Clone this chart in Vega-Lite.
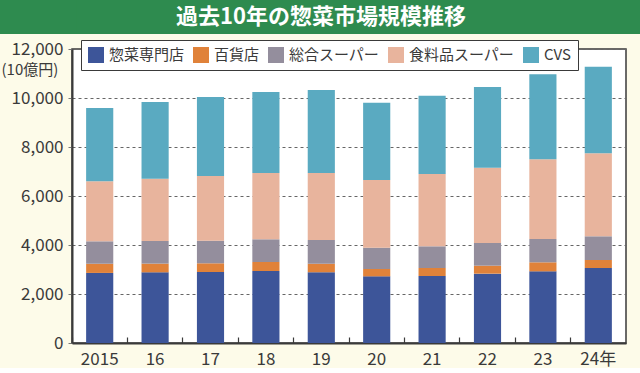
{
  "$schema": "https://vega.github.io/schema/vega-lite/v6.json",
  "padding": 0,
  "background": "#fdfbe9",
  "spacing": 5,
  "config": {
    "view": {"stroke": null},
    "font": "Noto Sans CJK JP",
    "concat": {"spacing": 5}
  },
  "vconcat": [
    {
      "width": 569,
      "height": 34,
      "view": {"fill": "#2e8b4f", "stroke": null},
      "data": {"values": [{"t": "過去10年の惣菜市場規模推移"}]},
      "mark": {"type": "text", "color": "white", "fontSize": 22, "fontWeight": "bold", "font": "Noto Sans CJK JP", "baseline": "middle", "align": "center", "dx": -35.5},
      "encoding": {
        "text": {"field": "t"},
        "y": {
          "field": "t",
          "type": "nominal",
          "scale": {"paddingInner": 0, "paddingOuter": 0},
          "axis": {
            "title": null,
            "labels": false,
            "ticks": false,
            "grid": false,
            "domain": true,
            "domainColor": "#2e8b4f",
            "domainWidth": 80,
            "domainCap": "butt",
            "translate": 0,
            "offset": 35.5
          }
        }
      }
    },
    {
      "width": 554,
      "height": 294,
      "view": {"fill": "white", "stroke": "#3a3a3a", "strokeWidth": 1.5},
      "data": {
        "values": [
          {"year": "2015", "type": "惣菜専門店", "o": 1, "v": 2860},
          {"year": "2015", "type": "百貨店", "o": 2, "v": 375},
          {"year": "2015", "type": "総合スーパー", "o": 3, "v": 915},
          {"year": "2015", "type": "食料品スーパー", "o": 4, "v": 2450},
          {"year": "2015", "type": "CVS", "o": 5, "v": 2990},
          {"year": "16", "type": "惣菜専門店", "o": 1, "v": 2885},
          {"year": "16", "type": "百貨店", "o": 2, "v": 355},
          {"year": "16", "type": "総合スーパー", "o": 3, "v": 925},
          {"year": "16", "type": "食料品スーパー", "o": 4, "v": 2540},
          {"year": "16", "type": "CVS", "o": 5, "v": 3135},
          {"year": "17", "type": "惣菜専門店", "o": 1, "v": 2898},
          {"year": "17", "type": "百貨店", "o": 2, "v": 355},
          {"year": "17", "type": "総合スーパー", "o": 3, "v": 923},
          {"year": "17", "type": "食料品スーパー", "o": 4, "v": 2640},
          {"year": "17", "type": "CVS", "o": 5, "v": 3225},
          {"year": "18", "type": "惣菜専門店", "o": 1, "v": 2939},
          {"year": "18", "type": "百貨店", "o": 2, "v": 367},
          {"year": "18", "type": "総合スーパー", "o": 3, "v": 927},
          {"year": "18", "type": "食料品スーパー", "o": 4, "v": 2706},
          {"year": "18", "type": "CVS", "o": 5, "v": 3306},
          {"year": "19", "type": "惣菜専門店", "o": 1, "v": 2884},
          {"year": "19", "type": "百貨店", "o": 2, "v": 353},
          {"year": "19", "type": "総合スーパー", "o": 3, "v": 967},
          {"year": "19", "type": "食料品スーパー", "o": 4, "v": 2735},
          {"year": "19", "type": "CVS", "o": 5, "v": 3388},
          {"year": "20", "type": "惣菜専門店", "o": 1, "v": 2721},
          {"year": "20", "type": "百貨店", "o": 2, "v": 299},
          {"year": "20", "type": "総合スーパー", "o": 3, "v": 870},
          {"year": "20", "type": "食料品スーパー", "o": 4, "v": 2763},
          {"year": "20", "type": "CVS", "o": 5, "v": 3155},
          {"year": "21", "type": "惣菜専門店", "o": 1, "v": 2735},
          {"year": "21", "type": "百貨店", "o": 2, "v": 326},
          {"year": "21", "type": "総合スーパー", "o": 3, "v": 885},
          {"year": "21", "type": "食料品スーパー", "o": 4, "v": 2952},
          {"year": "21", "type": "CVS", "o": 5, "v": 3196},
          {"year": "22", "type": "惣菜専門店", "o": 1, "v": 2830},
          {"year": "22", "type": "百貨店", "o": 2, "v": 326},
          {"year": "22", "type": "総合スーパー", "o": 3, "v": 926},
          {"year": "22", "type": "食料品スーパー", "o": 4, "v": 3073},
          {"year": "22", "type": "CVS", "o": 5, "v": 3294},
          {"year": "23", "type": "惣菜専門店", "o": 1, "v": 2925},
          {"year": "23", "type": "百貨店", "o": 2, "v": 368},
          {"year": "23", "type": "総合スーパー", "o": 3, "v": 952},
          {"year": "23", "type": "食料品スーパー", "o": 4, "v": 3252},
          {"year": "23", "type": "CVS", "o": 5, "v": 3470},
          {"year": "24年", "type": "惣菜専門店", "o": 1, "v": 3061},
          {"year": "24年", "type": "百貨店", "o": 2, "v": 327},
          {"year": "24年", "type": "総合スーパー", "o": 3, "v": 967},
          {"year": "24年", "type": "食料品スーパー", "o": 4, "v": 3388},
          {"year": "24年", "type": "CVS", "o": 5, "v": 3537}
        ]
      },
      "mark": {"type": "bar", "width": {"band": 0.49}},
      "encoding": {
        "x": {
          "field": "year",
          "type": "nominal",
          "sort": null,
          "scale": {"paddingInner": 0, "paddingOuter": 0},
          "axis": {
            "title": null,
            "labelAngle": 0,
            "labelFontSize": 17,
            "labelColor": "#3a3a3a",
            "labelFont": "Noto Sans CJK JP",
            "bandPosition": 0,
            "tickSize": -6,
            "tickColor": "#3a3a3a",
            "tickWidth": 1.2,
            "labelPadding": 14,
            "domainColor": "#3a3a3a",
            "domainWidth": 2
          }
        },
        "y": {
          "field": "v",
          "type": "quantitative",
          "stack": "zero",
          "scale": {"domain": [0, 12000], "nice": false},
          "axis": {
            "values": [0, 2000, 4000, 6000, 8000, 10000, 12000],
            "format": ",d",
            "title": "\u2002(10億円)",
            "titleAngle": 0,
            "titleAlign": "left",
            "titleBaseline": "top",
            "titleX": -71,
            "titleY": 13,
            "titleFontSize": 15,
            "titleFontWeight": "normal",
            "titleColor": "#3a3a3a",
            "titleFont": "Noto Sans CJK JP",
            "labelFontSize": 17,
            "labelColor": "#3a3a3a",
            "labelFont": "Noto Sans CJK JP",
            "labelPadding": 5,
            "tickSize": 4,
            "tickColor": "#777",
            "domainColor": "#3a3a3a",
            "domainWidth": 2,
            "grid": true,
            "gridColor": "#666",
            "gridDash": [3, 3],
            "gridWidth": 1
          }
        },
        "color": {
          "field": "type",
          "type": "nominal",
          "scale": {
            "domain": ["惣菜専門店", "百貨店", "総合スーパー", "食料品スーパー", "CVS"],
            "range": ["#3d5599", "#e0823a", "#948e9d", "#e8b49d", "#5aaac1"]
          },
          "legend": {
            "title": null,
            "orient": "none",
            "legendX": 9,
            "legendY": 40,
            "direction": "horizontal",
            "columns": 5,
            "symbolType": "square",
            "symbolSize": 256,
            "symbolStrokeWidth": 0,
            "symbolOpacity": 1,
            "labelFontSize": 15,
            "labelColor": "#3a3a3a",
            "labelFont": "Noto Sans CJK JP",
            "labelOffset": 5,
            "columnPadding": 8,
            "padding": 7,
            "fillColor": "white",
            "strokeColor": "#3a3a3a"
          }
        },
        "order": {"field": "o", "type": "quantitative", "sort": "ascending"}
      }
    }
  ]
}
